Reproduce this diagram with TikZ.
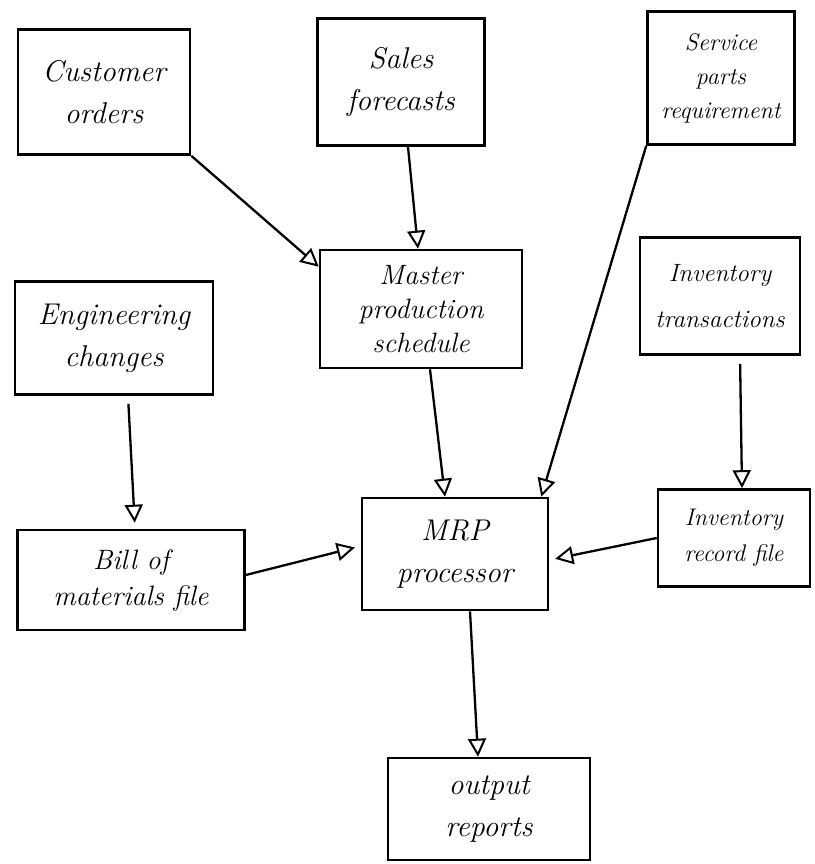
\documentclass[tikz,border=0pt]{standalone}
\usetikzlibrary{arrows.meta,calc}
\begin{document}
\begin{tikzpicture}[x=1pt,y=-1pt,
  box/.style={draw,line width=2.6pt,align=center,inner sep=1pt,font=\fontsize{30}{42}\selectfont\itshape},
  conn/.style={line width=2.3pt,-{Triangle[open,length=18pt,width=18pt,line width=2pt]}}]
\useasboundingbox[fill=white] (0,0) rectangle (814,864);
\node[box,minimum width=172,minimum height=125] (co) at (104,92) {Customer\\orders};
\node[box,minimum width=167,minimum height=127] (sf) at (401,82) {Sales\\forecasts};
\node[box,minimum width=147,minimum height=133,font=\fontsize{24}{34}\selectfont\itshape] (sp) at (721,78) {Service\\parts\\requirement};
\node[box,minimum width=202,minimum height=118,font=\fontsize{28}{34}\selectfont\itshape] (mps) at (421,309) {Master\\production\\schedule};
\node[box,minimum width=160,minimum height=117,font=\fontsize{25}{46}\selectfont\itshape] (it) at (720,296) {Inventory\\transactions};
\node[box,minimum width=198,minimum height=113] (ec) at (114,338) {Engineering\\changes};
\node[box,minimum width=227,minimum height=100,font=\fontsize{28}{36}\selectfont\itshape] (bom) at (131,580) {Bill of\\materials file};
\node[box,minimum width=186,minimum height=112] (mrp) at (455,554) {MRP\\processor};
\node[box,minimum width=152,minimum height=97,font=\fontsize{24}{36}\selectfont\itshape] (irf) at (734,538) {Inventory\\record file};
\node[box,minimum width=202,minimum height=102] (or) at (489,809) {output\\reports};
\draw[conn] (co.south east) -- ($(mps.north west)+(0,18)$);
\draw[conn] ([xshift=7]sf.south) -- ([xshift=-3]mps.north);
\draw[conn] (sp.south west) -- ([xshift=-8]mrp.north east);
\draw[conn] ([xshift=9]mps.south) -- ([xshift=-10]mrp.north);
\draw[conn,shorten <=8pt] ([xshift=20]it.south) -- ([xshift=8]irf.north);
\draw[conn,shorten <=8pt,shorten >=6pt] ([xshift=14]ec.south) -- ([xshift=4]bom.north);
\draw[conn,shorten >=6pt] ([yshift=5]bom.east) -- ([yshift=8]mrp.west);
\draw[conn,shorten >=6pt] (irf.west) -- ([yshift=-6]mrp.east);
\draw[conn] ([xshift=15]mrp.south) -- ([xshift=-11]or.north);
\end{tikzpicture}
\end{document}
